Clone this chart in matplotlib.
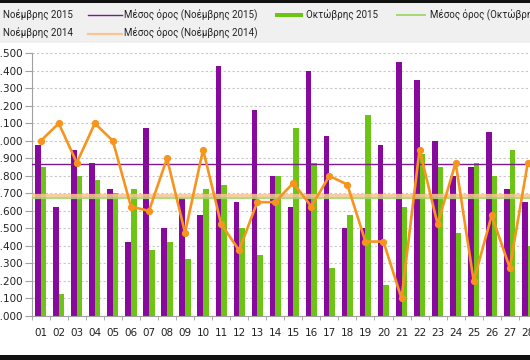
import matplotlib
matplotlib.use('Agg')
import matplotlib.pyplot as plt
from matplotlib.ticker import FuncFormatter, MultipleLocator, FixedLocator
from matplotlib.lines import Line2D
from matplotlib.patches import Rectangle
import numpy as np

# ---- data ----
days = ['01', '02', '03', '04', '05', '06', '07', '08', '09', '10', '11', '12', '13', '14',
        '15', '16', '17', '18', '19', '20', '21', '22', '23', '24', '25', '26', '27', '28']
nov2015 = [1975, 1625, 1950, 1875, 1725, 1425, 2075, 1500, 1675, 1575, 2425, 1650, 2175, 1800,
           1625, 2400, 2025, 1500, 1500, 1975, 2450, 2350, 2000, 1800, 1850, 2050, 1725, 1650]
oct2015 = [1850, 1125, 1800, 1775, 1700, 1725, 1375, 1425, 1325, 1725, 1750, 1500, 1350, 1800,
           2075, 1875, 1275, 1575, 2150, 1175, 1625, 1925, 1850, 1475, 1875, 1800, 1950, 1400]
nov2014 = [2000, 2100, 1875, 2100, 2000, 1625, 1600, 1900, 1475, 1950, 1525, 1375, 1650, 1650,
           1760, 1625, 1800, 1750, 1425, 1425, 1100, 1950, 1525, 1875, 1200, 1575, 1275, 1875]
mean_nov2015 = 1868
mean_oct2015 = 1671
mean_nov2014 = 1692

label_nov2015 = 'Νοέμβρης 2015'
label_oct2015 = 'Οκτώβρης 2015'
label_nov2014 = 'Νοέμβρης 2014'
label_mean_nov2015 = 'Μέσος όρος (Νοέμβρης 2015)'
label_mean_oct2015 = 'Μέσος όρος (Οκτώβρης 2015)'
label_mean_nov2014 = 'Μέσος όρος (Νοέμβρης 2014)'

# ---- styles ----
purple = '#880a9c'
purple_line = '#7a1a8e'
green = '#6cc414'
green_light = '#a4d872'
orange = '#f7941e'
orange_light = '#f9c593'

W, H = 530, 360
fig = plt.figure(figsize=(W / 100, H / 100), dpi=100)
fig.patch.set_facecolor('white')


def fx(px):
    return px / W


def fy(py):
    return 1 - py / H


# background bands
fig.add_artist(Rectangle((0, fy(43)), 1, fy(3) - fy(43), transform=fig.transFigure,
                         facecolor='#f0f0f0', edgecolor='none', zorder=0))
fig.add_artist(Rectangle((0, fy(3)), 1, 1 - fy(3), transform=fig.transFigure,
                         facecolor='#111111', edgecolor='none', zorder=0))
fig.add_artist(Rectangle((0, 0), 1, fy(355), transform=fig.transFigure,
                         facecolor='#111111', edgecolor='none', zorder=0))

left_px, bottom_px, top_px = 31.7, 316, 53.3
step = 18.04
ax = fig.add_axes([fx(left_px), fy(bottom_px), fx(W - left_px), fy(top_px) - fy(bottom_px)])
ax.set_facecolor('white')

x = np.arange(len(days))
bw = 0.31
ax.bar(x - bw / 2, nov2015, width=bw, color=purple, zorder=2)
ax.bar(x + bw / 2, oct2015, width=bw, color=green, zorder=2)
ax.axhline(mean_oct2015, color=green_light, lw=1.6, alpha=0.9, zorder=3)
ax.axhline(mean_nov2014, color=orange_light, lw=2.3, alpha=0.85, zorder=3)
ax.axhline(mean_nov2015, color=purple_line, lw=1.0, zorder=3)
ax.plot(x, nov2014, color=orange, lw=1.9, marker='o', ms=4.2, zorder=4)

ax.set_xlim(-0.5, -0.5 + (W - left_px) / step)
ax.set_ylim(1000, 2500)
ax.yaxis.set_major_locator(MultipleLocator(100))
ax.yaxis.set_major_formatter(FuncFormatter(lambda v, p: f"{int(round(v)):,}".replace(',', '.')))
ax.grid(axis='y', color='#c8c8c8', ls=(0, (2, 2)), lw=0.8)
ax.set_axisbelow(True)

ax.set_xticks(x)
ax.set_xticklabels(days)
ax.xaxis.set_minor_locator(FixedLocator(np.arange(-0.5, len(days) + 0.5, 1)))
ax.tick_params(axis='x', which='major', length=0, pad=8.5, labelsize=7.5, colors='#222222')
ax.tick_params(axis='x', which='minor', length=3, color='#a0a0a0')
ax.tick_params(axis='y', length=4.8, pad=1.5, labelsize=7.5, color='#a0a0a0', labelcolor='#222222')
for s in ['top', 'right']:
    ax.spines[s].set_visible(False)
for s in ['left', 'bottom']:
    ax.spines[s].set_color('#a0a0a0')
    ax.spines[s].set_linewidth(0.8)

# legend (drawn manually in figure coordinates)
lf = dict(family='Roboto', fontsize=7, color='#222222', va='center', ha='left')
fig.text(fx(3), fy(15), label_nov2015, **lf)
fig.add_artist(Line2D([fx(88), fx(122)], [fy(15), fy(15)], color=purple_line, lw=1.0,
                      transform=fig.transFigure))
fig.text(fx(124), fy(15), label_mean_nov2015, **lf)
fig.add_artist(Rectangle((fx(275), fy(17)), fx(28), fy(13) - fy(17), transform=fig.transFigure,
                         facecolor=green, edgecolor='none'))
fig.text(fx(306), fy(15), label_oct2015, **lf)
fig.add_artist(Line2D([fx(397), fx(425)], [fy(15), fy(15)], color=green_light, lw=1.4,
                      transform=fig.transFigure))
fig.text(fx(430), fy(15), label_mean_oct2015, **lf)
fig.text(fx(3), fy(33.5), label_nov2014, **lf)
fig.add_artist(Line2D([fx(88), fx(122)], [fy(33.5), fy(33.5)], color=orange_light, lw=1.6,
                      transform=fig.transFigure))
fig.text(fx(124), fy(33.5), label_mean_nov2014, **lf)

fig.savefig('out.png', dpi=100)
